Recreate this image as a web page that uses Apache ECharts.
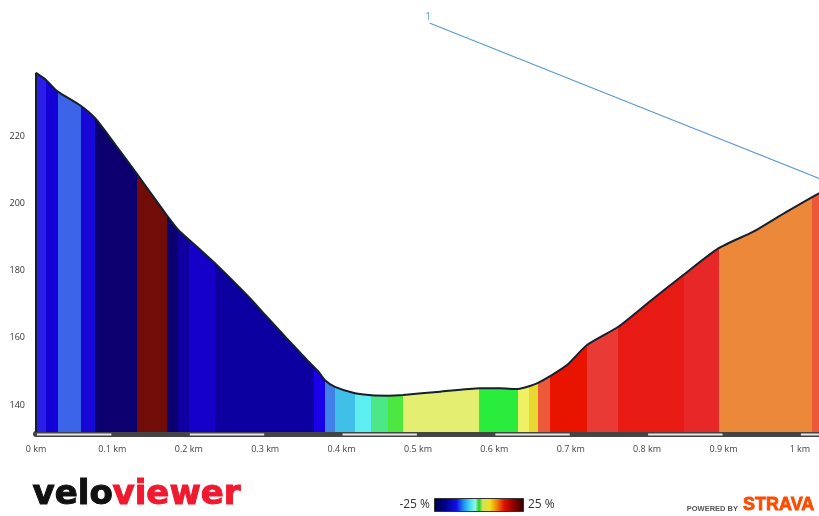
<!DOCTYPE html>
<html>
<head>
<meta charset="utf-8">
<script src="https://cdn.jsdelivr.net/npm/echarts@6/dist/echarts.min.js"></script>
<style>html,body{margin:0;padding:0;background:#fff;}#c{width:819px;height:516px;}</style>
</head>
<body>
<div id="c"></div>
<script>
// distance (km) and elevation (m) of the profile
const distKm = [0, 0.0131, 0.0275, 0.0576, 0.0772, 0.1034, 0.1318, 0.1711, 0.1863, 0.2147, 0.2343, 0.2801, 0.3000, 0.3548, 0.3692, 0.3783, 0.3914, 0.4176, 0.4395, 0.4608, 0.4804, 0.5289, 0.5812, 0.6074, 0.6310, 0.6467, 0.6572, 0.6729, 0.6951, 0.7209, 0.7623, 0.8038, 0.8474, 0.8932, 0.9390, 0.9818, 1.0250, 1.0394];
const elevM  = [238.8, 236.7, 233.4, 229.2, 225.4, 217.6, 208.9, 196.5, 192.1, 186.3, 182.2, 171.8, 166.8, 153.4, 150.1, 147.4, 145.4, 143.5, 142.9, 142.8, 143.0, 144.0, 145.0, 145.0, 144.8, 145.7, 146.6, 148.6, 151.9, 157.8, 163.3, 170.9, 178.7, 186.6, 191.6, 197.4, 203.0, 204.5];
// gradient bands: start distance (km) and colour
const bandStartKm = [0, 0.0131, 0.0284, 0.0585, 0.0766, 0.1318, 0.1711, 0.1855, 0.2007, 0.2343, 0.3639, 0.3787, 0.3908, 0.4176, 0.4389, 0.4605, 0.4808, 0.5799, 0.6314, 0.6454, 0.6575, 0.6729, 0.7209, 0.7623, 0.8483, 0.8945, 1.0154];
const bandColors = ['#2a1ee8','#1500d8','#3c64e8','#1808d8','#0c0070','#720c08','#0c0070','#1000a0','#1400c8','#0c00a0','#1a00e8','#4080e8','#40c0e8','#5ceef0','#4ce888','#4ce840','#e4ee70','#2aec3c','#f0f064','#e8d830','#ec5a3a','#e81400','#ea3a36','#e81a14','#e82828','#ec883a','#ea5838'];
// lap marker line "1"
const lapLineKm = [0.5158, 1.04];
const lapLineM = [253.6, 206.1];
const lapLabel = '1';
// axis ticks
const xTicks = [0, 0.1, 0.2, 0.3, 0.4, 0.5, 0.6, 0.7, 0.8, 0.9, 1.0];
const yTicks = [140, 160, 180, 200, 220];
// scale bar white segments (km)
const scaleSegStart = [0, 0.2, 0.4, 0.6, 0.8, 1.0];
const scaleSegEnd = [0.1, 0.3, 0.5, 0.7, 0.9, 1.1];

const Y_MIN = 132, Y_MAX = 260.5, X_MAX = 1.025;

const profile = distKm.map((d, i) => [d, elevM[i]]);
const outline = [[0, Y_MIN]].concat(profile);
const pieces = bandStartKm.map((s, i) => ({
  gte: s, lt: i + 1 < bandStartKm.length ? bandStartKm[i + 1] : 5, color: bandColors[i]
}));
const lapData = lapLineKm.map((d, i) => i === 0
  ? { value: [d, lapLineM[i]], label: { show: true, formatter: lapLabel } }
  : { value: [d, lapLineM[i]] });
const scaleData = scaleSegStart.map((s, i) => [s, scaleSegEnd[i]]);

const chart = echarts.init(document.getElementById('c'), null, { renderer: 'canvas' });
chart.setOption({
  animation: false,
  backgroundColor: '#ffffff',
  grid: { left: 36, right: 0, top: 0, bottom: 84, containLabel: false },
  xAxis: {
    type: 'value', min: 0, max: X_MAX,
    offset: 2,
    axisLine: { show: true, lineStyle: { color: '#444', width: 6 } },
    axisTick: { show: false },
    splitLine: { show: false },
    axisLabel: {
      customValues: xTicks, margin: 11, fontSize: 9, color: '#444', fontFamily: 'Open Sans',
      formatter: v => (Math.round(v * 10) / 10) + ' km', showMaxLabel: true
    }
  },
  yAxis: {
    type: 'value', min: Y_MIN, max: Y_MAX,
    axisLine: { show: false }, axisTick: { show: false }, splitLine: { show: false },
    axisLabel: { customValues: yTicks, margin: 11, fontSize: 9, color: '#333', fontFamily: 'Open Sans' }
  },
  visualMap: {
    show: false, type: 'piecewise', dimension: 0, seriesIndex: 0, pieces: pieces
  },
  series: [
    {
      type: 'line', data: profile, symbol: 'none', smooth: 0.2,
      lineStyle: { width: 0 },
      areaStyle: { opacity: 1, origin: 'start' },
      z: 2
    },
    {
      type: 'line', data: outline, symbol: 'none', smooth: 0.2,
      lineStyle: { color: '#15202c', width: 2 },
      z: 3
    },
    {
      type: 'line', data: lapData, symbol: 'circle', symbolSize: 1, showSymbol: true,
      itemStyle: { color: '#5b9bd5' },
      lineStyle: { color: '#5b9bd5', width: 1.2 },
      label: { show: false, position: 'top', distance: 1, offset: [-2, 0], color: '#5b9bd5', fontSize: 10, fontFamily: 'Open Sans' },
      z: 4
    },
    {
      type: 'custom', data: scaleData, z: 5, silent: true,
      renderItem: function (params, api) {
        const a = api.coord([api.value(0), Y_MIN]);
        const b = api.coord([api.value(1), Y_MIN]);
        const right = params.coordSys.x + params.coordSys.width;
        const x1 = a[0] + 1, x2 = Math.min(b[0] - 1, right);
        if (x2 <= x1) return null;
        return { type: 'rect', shape: { x: x1, y: a[1] + 1.5, width: x2 - x1, height: 2 }, style: { fill: '#e6e6e6' } };
      }
    }
  ],
  graphic: [
    { type: 'text', left: 32, top: 478, style: { text: 'velo', fill: '#111', stroke: '#111', lineWidth: 1, font: 'bold 34px "DejaVu Sans"' } },
    { type: 'text', left: 112, top: 478, style: { text: 'viewer', fill: '#f01a30', stroke: '#f01a30', lineWidth: 1, font: 'bold 34px "DejaVu Sans"' } },
    { type: 'text', x: 430, y: 505, style: { text: '-25 %', fill: '#333', font: '12px "Open Sans"', align: 'right', verticalAlign: 'middle' } },
    { type: 'text', x: 528, y: 505, style: { text: '25 %', fill: '#333', font: '12px "Open Sans"', align: 'left', verticalAlign: 'middle' } },
    {
      type: 'rect', shape: { x: 434.5, y: 498.5, width: 89, height: 13 },
      style: {
        stroke: '#333', lineWidth: 1,
        fill: new echarts.graphic.LinearGradient(0, 0, 1, 0, [
          { offset: 0, color: '#000048' }, { offset: 0.12, color: '#00008c' },
          { offset: 0.25, color: '#1010e0' }, { offset: 0.33, color: '#2090f0' },
          { offset: 0.40, color: '#40e0f0' }, { offset: 0.46, color: '#a0f0e0' },
          { offset: 0.50, color: '#20d020' }, { offset: 0.54, color: '#d0e060' },
          { offset: 0.62, color: '#f0e020' }, { offset: 0.70, color: '#f08000' },
          { offset: 0.78, color: '#e01000' }, { offset: 0.90, color: '#800000' },
          { offset: 1, color: '#300000' }
        ])
      }
    },
    { type: 'text', x: 738, y: 513, style: { text: 'POWERED BY', fill: '#555', font: 'bold 7.5px "Liberation Sans"', align: 'right', verticalAlign: 'bottom' } },
    { type: 'text', x: 743, y: 514, style: { text: 'STRAVA', fill: '#fc4c02', stroke: '#fc4c02', lineWidth: 0.8, font: 'bold 18px "Liberation Sans"', align: 'left', verticalAlign: 'bottom' } }
  ]
});
</script>
</body>
</html>
